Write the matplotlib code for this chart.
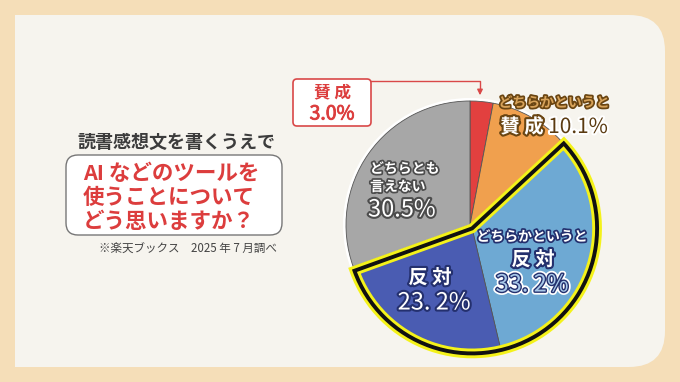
import numpy as np
import matplotlib
matplotlib.use("Agg")
import matplotlib.pyplot as plt
import matplotlib.patheffects as pe
from matplotlib.patches import Wedge, Circle, FancyBboxPatch, PathPatch
from matplotlib.path import Path

plt.rcParams['font.family'] = ['Noto Sans CJK JP', 'DejaVu Sans']

# data
labels = ["賛成", "どちらかというと賛成", "どちらかというと反対", "反対", "どちらとも言えない"]
values = [3.0, 10.1, 33.2, 23.2, 30.5]
colors = ["#e2403f", "#f0a04e", "#6ea9d3", "#4a5cb2", "#a7a7a7"]
pct_text = ["3.0%", "10.1%", "33. 2%", "23. 2%", "30.5%"]
title_top = "読書感想文を書くうえで"
question = ["AI などのツールを", "使うことについて", "どう思いますか？"]
source = "※楽天ブックス　2025 年 7 月調べ"

W, H = 680, 382
fig = plt.figure(figsize=(W / 100, H / 100), dpi=100)
fig.patch.set_facecolor("#f5deb8")
ax = fig.add_axes([0, 0, 1, 1])


def Y(y):  # pixel row -> data y
    return H - y


# panel with rounded right corners
x0, x1, yt, yb, rr = 15, 665, Y(15), Y(367), 36
verts = [(x0, yb), (x1 - rr, yb), (x1, yb), (x1, yb + rr), (x1, yt - rr), (x1, yt),
         (x1 - rr, yt), (x0, yt), (x0, yb)]
codes = [Path.MOVETO, Path.LINETO, Path.CURVE3, Path.CURVE3, Path.LINETO, Path.CURVE3,
         Path.CURVE3, Path.LINETO, Path.CLOSEPOLY]
ax.add_patch(PathPatch(Path(verts, codes), facecolor="#f6f4ee", edgecolor="none"))

# pie
cx, cy, R = 470, Y(225), 124
ax.add_patch(Circle((cx, cy), R + 3, facecolor="white", edgecolor="none", zorder=1))
wedges, _ = ax.pie(values, colors=colors, startangle=90, counterclock=False,
                   radius=R, center=(cx, cy), frame=True,
                   wedgeprops=dict(edgecolor="#555555", linewidth=0.6))
ax.set_xlim(0, W)
ax.set_ylim(0, H)
ax.axis("off")
for w in wedges:
    w.set_zorder(2)

# shift the two "反対" wedges together and outline them
t_hi = wedges[1].theta1
t_lo = wedges[3].theta1
mid = np.deg2rad((t_hi + t_lo) / 2)
off = np.array([np.cos(mid), np.sin(mid)]) * 4
for w in (wedges[2], wedges[3]):
    w.set_center((cx + off[0], cy + off[1]))
    w.set_zorder(3)
for lw, c in ((7, "#f4f21a"), (2.8, "#111111")):
    ax.add_patch(Wedge((cx + off[0], cy + off[1]), R + 1, t_lo, t_hi, fill=False,
                       edgecolor=c, linewidth=lw, joinstyle="miter", zorder=4))

# left text
ax.text(177, Y(142), title_top, ha="center", va="center", fontsize=13,
        fontweight="bold", color="#3c3c3c")
ax.add_patch(FancyBboxPatch((66, Y(235)), 216, 80, boxstyle="round,pad=0,rounding_size=12",
                            facecolor="white", edgecolor="#777777", linewidth=1.0))
for i, line in enumerate(question):
    ax.text(83, Y(173 + 24 * i), line, ha="left", va="center", fontsize=15.5,
            fontweight="bold", color="#dc3d3d")
ax.text(277, Y(249), source, ha="right", va="center", fontsize=8.3, color="#444444")

# callout for the small slice
ax.add_patch(FancyBboxPatch((293, Y(126)), 78, 47, boxstyle="round,pad=0,rounding_size=4",
                            facecolor="white", edgecolor="#d94848", linewidth=1.2))
ax.text(332, Y(92), "賛 成", ha="center", va="center", fontsize=12,
        fontweight="bold", color="#dc3d3d")
ax.text(332, Y(114), pct_text[0], ha="center", va="center", fontsize=14, color="#dc3d3d",
        path_effects=[pe.withStroke(linewidth=0.6, foreground="#dc3d3d")])
ax.plot([371, 480, 480], [Y(81), Y(81), Y(90)], color="#d94848", lw=1.0)
ax.annotate("", xy=(480, Y(98)), xytext=(480, Y(89)),
            arrowprops=dict(arrowstyle="-|>", color="#d94848", lw=1.0, mutation_scale=8))


def out(c, w=2.5):
    return [pe.withStroke(linewidth=w, foreground=c)]


brown = "#6a4512"
ax.text(554, Y(103), "どちらかというと", ha="center", va="center", fontsize=10,
        fontweight="bold", color="#d8a35a", path_effects=out(brown), zorder=6)
ax.text(522, Y(127), "賛 成", ha="center", va="center", fontsize=14,
        fontweight="bold", color="white", path_effects=out(brown, 3), zorder=6)
ax.text(578, Y(127), pct_text[1], ha="center", va="center", fontsize=15,
        color="#5a3a10", path_effects=out("white", 3), zorder=6)

gray_o = "#4c4c4c"
ax.text(370, Y(169), "どちらとも", ha="left", va="center", fontsize=10,
        fontweight="bold", color="white", path_effects=out(gray_o), zorder=6)
ax.text(370, Y(187), "言えない", ha="left", va="center", fontsize=10,
        fontweight="bold", color="white", path_effects=out(gray_o), zorder=6)
ax.text(368, Y(210), pct_text[4], ha="left", va="center", fontsize=17,
        color="white", path_effects=out(gray_o, 3), zorder=6)

navy = "#24306e"
ax.text(532, Y(237), "どちらかというと", ha="center", va="center", fontsize=10,
        fontweight="bold", color="white", path_effects=out(navy), zorder=6)
ax.text(533, Y(260), "反 対", ha="center", va="center", fontsize=14,
        fontweight="bold", color="white", path_effects=out(navy, 3), zorder=6)
ax.text(532, Y(285), pct_text[2], ha="center", va="center", fontsize=17,
        color="#a8c8e8",
        path_effects=[pe.withStroke(linewidth=4.5, foreground="white"),
                      pe.withStroke(linewidth=2.0, foreground=navy)], zorder=6)

ax.text(430, Y(278), "反 対", ha="center", va="center", fontsize=14,
        fontweight="bold", color="white", path_effects=out(navy, 3), zorder=6)
ax.text(434, Y(303), pct_text[3], ha="center", va="center", fontsize=17,
        color="white", path_effects=out(navy, 3), zorder=6)

fig.savefig("out.png", dpi=100, facecolor=fig.get_facecolor())
